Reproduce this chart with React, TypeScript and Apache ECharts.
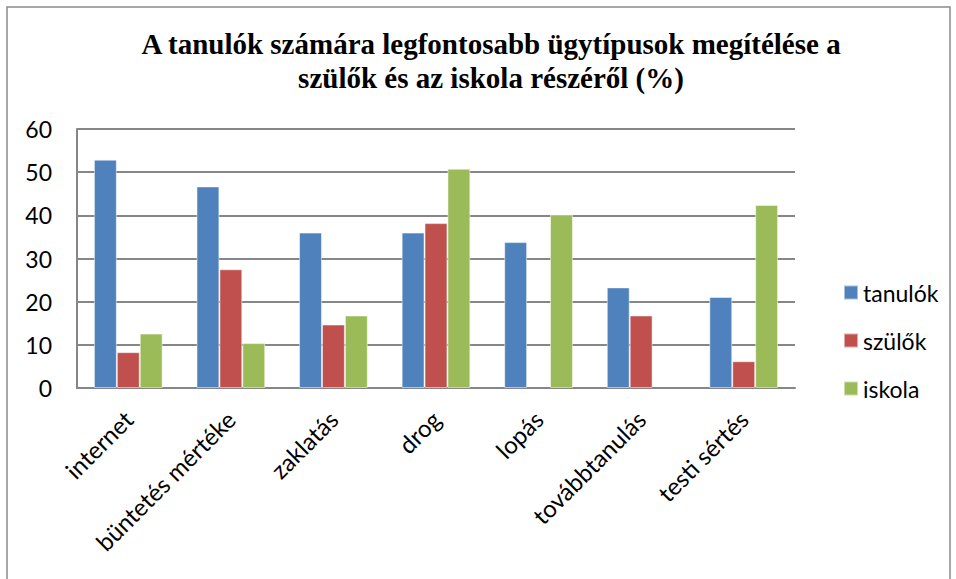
import React, { useEffect, useRef } from "react";
import * as echarts from "echarts";

const categories = ["internet", "büntetés mértéke", "zaklatás", "drog", "lopás", "továbbtanulás", "testi sértés"];
const tanulok = [52.9, 46.7, 36.0, 36.0, 33.8, 23.3, 21.1];
const szulok = [8.3, 27.5, 14.7, 38.2, null, 16.8, 6.2];
const iskola = [12.6, 10.4, 16.8, 50.8, 40.2, null, 42.4];
const yTicks = [0, 10, 20, 30, 40, 50, 60];

const FONT = "Lato, 'Open Sans', sans-serif";

export default function App() {
  const ref = useRef<HTMLDivElement>(null);
  useEffect(() => {
    const chart = echarts.init(ref.current!, null, { renderer: "svg" });
    const mk = (name: string, data: (number | null)[], color: string) => ({
      name,
      type: "bar",
      data,
      barGap: "0%",
      barCategoryGap: "33%",
      itemStyle: { color, borderColor: "rgba(255,255,255,0.5)", borderWidth: 1 },
    });
    chart.setOption({
      animation: false,
      backgroundColor: "#ffffff",
      title: {
        text: "A tanulók számára legfontosabb ügytípusok megítélése a\nszülők és az iskola részéről (%)",
        left: 486,
        top: 22,
        textAlign: "center",
        textStyle: {
          fontFamily: "'Liberation Serif', 'Times New Roman', serif",
          fontSize: 29,
          fontWeight: "bold",
          color: "#000",
          lineHeight: 34,
        },
      },
      graphic: [
        {
          type: "rect",
          shape: { x: 7, y: 7, width: 943, height: 590 },
          style: { fill: "none", stroke: "#8a8a8a", lineWidth: 1.5 },
          silent: true,
        },
      ],
      legend: {
        orient: "vertical",
        left: 838,
        top: 276,
        itemWidth: 14,
        itemHeight: 14,
        itemGap: 25,
        icon: "rect",
        textStyle: { fontFamily: FONT, fontSize: 23, color: "#000" },
        data: ["tanulók", "szülők", "iskola"],
      },
      grid: { left: 77, right: 161, top: 129, bottom: 191, containLabel: false },
      xAxis: {
        type: "category",
        data: categories,
        axisLine: { lineStyle: { color: "#868686", width: 2 } },
        axisTick: { show: false },
        axisLabel: {
          rotate: 45,
          interval: 0,
          fontFamily: FONT,
          fontSize: 24,
          color: "#000",
          margin: 27,
        },
      },
      yAxis: {
        type: "value",
        min: 0,
        max: 60,
        interval: 10,
        axisLine: { show: true, lineStyle: { color: "#868686", width: 2 } },
        axisTick: { show: false },
        splitLine: { lineStyle: { color: "#868686", width: 2 } },
        axisLabel: {
          fontFamily: FONT,
          fontSize: 23,
          color: "#000",
          margin: 25,
          formatter: (v: number) => (yTicks.includes(v) ? String(v) : ""),
        },
      },
      series: [
        mk("tanulók", tanulok, "#4F81BD"),
        mk("szülők", szulok, "#C0504D"),
        mk("iskola", iskola, "#9BBB59"),
      ],
    });
    return () => chart.dispose();
  }, []);
  return (
    <div
      ref={ref}
      style={{ position: "fixed", left: 0, top: 0, width: 956, height: 579 }}
    />
  );
}
